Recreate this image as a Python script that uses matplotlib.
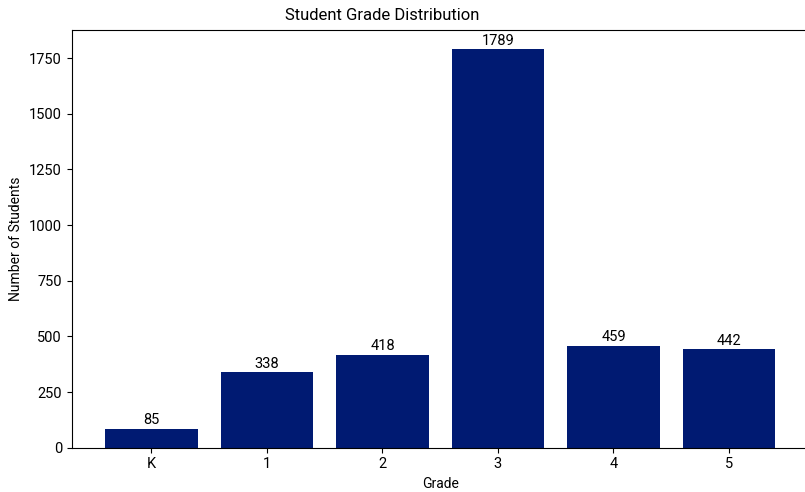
import matplotlib
matplotlib.use('Agg')
import matplotlib.pyplot as plt

plt.rcParams['font.family'] = ['Roboto', 'DejaVu Sans']

grades = ['K', '1', '2', '3', '4', '5']
students = [85, 338, 418, 1789, 459, 442]

fig = plt.figure(figsize=(8.05, 4.92), dpi=100)
ax = fig.add_axes([71.7 / 805, 44.3 / 492, 737 / 805, 418.2 / 492])

bars = ax.bar(grades, students, color='#001a72')
ax.bar_label(bars, fontsize=10.5, padding=1)

ax.set_xlabel('Grade', fontsize=10)
ax.set_ylabel('Number of Students', fontsize=10)
ax.tick_params(labelsize=10.5)
fig.text(381.7 / 805, 1 - 15 / 492, 'Student Grade Distribution',
         ha='center', va='center', fontsize=12)

fig.savefig('out.png', dpi=100)
